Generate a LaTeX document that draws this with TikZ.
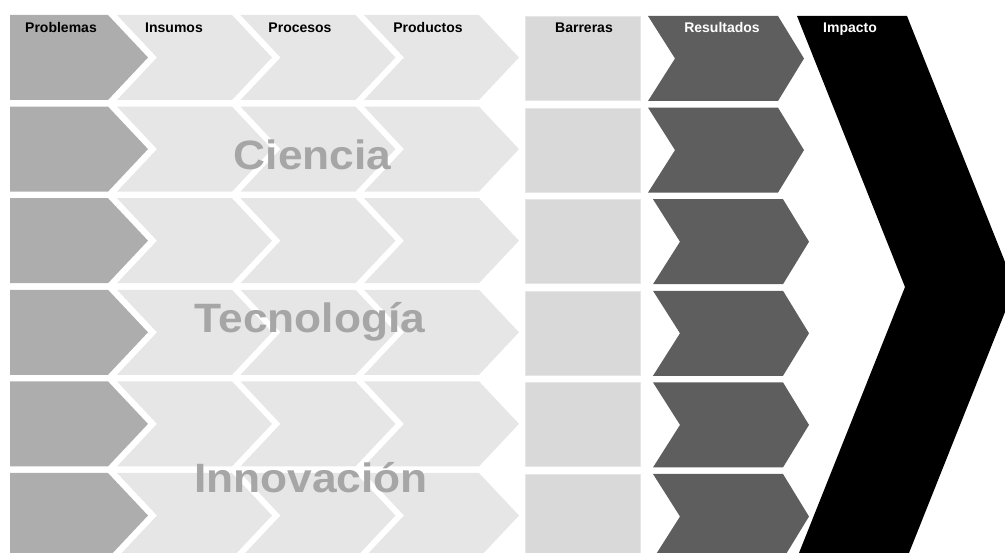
\documentclass[tikz,border=0pt]{standalone}
\usepackage{fontspec}
\setmainfont{Liberation Sans}
\usetikzlibrary{positioning}
\definecolor{probgray}{HTML}{ADADAD}
\definecolor{stagegray}{HTML}{E6E6E6}
\definecolor{barrgray}{HTML}{D9D9D9}
\definecolor{resgray}{HTML}{5E5E5E}
\definecolor{wordgray}{HTML}{A6A6A6}

\begin{document}
\begin{tikzpicture}[x=1pt,y=-1pt,
    problem/.style={fill=probgray},
    stage/.style={fill=stagegray},
    barrier/.style={fill=barrgray,draw=stagegray,line width=1pt},
    result/.style={fill=resgray},
    impact/.style={fill=black},
    head/.style={font=\bfseries\fontsize{14}{16}\selectfont,anchor=base,inner sep=0},
    bigword/.style={font=\bfseries\fontsize{41}{48}\selectfont,text=wordgray,anchor=base,inner sep=0}]

\useasboundingbox (0,0) rectangle (1005,553);
\clip (0,0) rectangle (1005,553);

% Rows of blocks
\foreach \r/\dx in {0/0,1/0,2/5,3/5,4/5,5/5}{
    \pgfmathsetmacro{\t}{15+91.6*\r}
    \pgfmathsetmacro{\m}{\t+42.5}
    \pgfmathsetmacro{\b}{\t+85}
    % Problemas
    \fill[problem] (10,\t) -- (108,\t) -- (148,\m) -- (108,\b) -- (10,\b) -- cycle;
    % Insumos, Procesos, Productos
    \foreach \c in {0,1,2}{
        \pgfmathsetmacro{\xl}{117+123.5*\c}
        \fill[stage] (\xl,\t) -- ++(115,0) -- ++(40,42.5) -- ++(-40,42.5)
            -- ++(-115,0) -- ++(40,-42.5) -- cycle;
    }
    % Barreras
    \filldraw[barrier] (525.5,\t+1.5) rectangle (640.5,\b+0.5);
    % Resultados
    \fill[result] (648+\dx,\t+1) -- ++(130,0) -- ++(26,42.5) -- ++(-26,42.5)
        -- ++(-130,0) -- ++(27,-42.5) -- cycle;
}

% Impacto
\fill[impact] (797,16) -- (907,16) -- (1015,287) -- (907,558) -- (797,558) -- (905,287) -- cycle;

% Headings
\node[head] (problemas) at (61,33) {Problemas};
\node[head] (insumos) at (174,33) {Insumos};
\node[head] (procesos) at (300,33) {Procesos};
\node[head] (productos) at (428,33) {Productos};
\node[head] (barreras) at (584,33) {Barreras};
\node[head,text=white] (resultados) at (722,33) {Resultados};
\node[head,text=white] (impacto) at (850,33) {Impacto};

% Big words
\node[bigword] (ciencia) at (312.5,170) {\scalebox{1.08}[1]{Ciencia}};
\node[bigword] (tecnologia) at (310,333) {\scalebox{1.08}[1]{Tecnología}};
\node[bigword] (innovacion) at (311,493) {\scalebox{1.08}[1]{Innovación}};

\end{tikzpicture}
\end{document}
